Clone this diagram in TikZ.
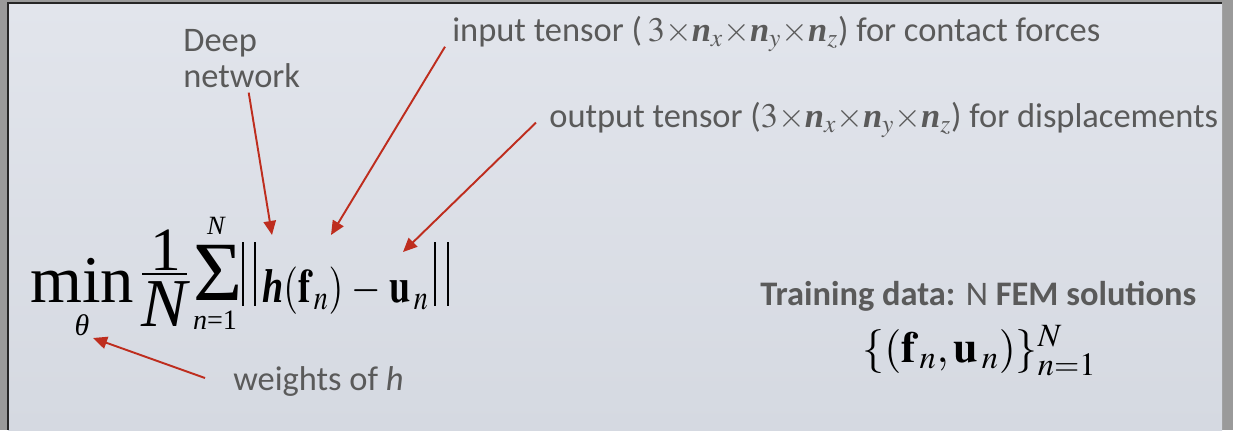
\documentclass[tikz,border=0pt]{standalone}
\usepackage{amsmath}
\usepackage{mathptmx}
\usepackage{graphicx}
\usepackage[no-math]{fontspec}
\setmainfont{Carlito}
\newfontfamily\timesfont{Liberation Serif}
\usetikzlibrary{arrows.meta,positioning}

\definecolor{framegray}{RGB}{154,154,154}
\definecolor{paneltop}{RGB}{226,229,236}
\definecolor{panelbot}{RGB}{213,217,225}
\definecolor{txtgray}{RGB}{90,90,90}
\definecolor{arrred}{RGB}{190,45,30}

% bold italic Times letters
\newcommand{\bi}[1]{\mbox{\timesfont\bfseries\itshape #1}}
\newcommand{\tensorsize}{$3{\times}\bi{n}_x{\times}\bi{n}_y{\times}\bi{n}_z$}

\begin{document}
\begin{tikzpicture}[
    x=0.02cm, y=-0.02cm,
    lbl/.style={text=txtgray, font=\fontsize{19.6}{20}\selectfont, inner sep=0pt, align=left},
    tms/.style={inner sep=0pt, font=\fontsize{#1}{#1}\selectfont\timesfont},
    datamath/.style={inner sep=0pt, font=\fontsize{25}{30}\selectfont},
    arrow/.style={-{Triangle[length=8pt,width=7pt]}, draw=arrred, line width=1.1pt}
]
\useasboundingbox (0,0) rectangle (1233,430);

% slide panel
\fill[framegray] (0,0) rectangle (1233,430);
\shade[top color=paneltop, bottom color=panelbot] (8,3) rectangle (1222,430);
\draw[black!85, line width=1.2pt] (8,430) -- (8,3) -- (1222,3);

% loss function: min over theta
\node[tms=38, anchor=base west] (min) at (30,302) {min};
\node[tms=17, anchor=north] (theta) at (82,314) {\itshape θ};

% 1/N
\node[tms=35, anchor=south] (one) at (166,271) {1};
\node[tms=39, anchor=north] (den) at (164,281) {\itshape N};
\draw[line width=1.1pt] (142,274) -- (187,274);

% sum
\node[tms=48, anchor=base west] (sum) at (193,300) {Σ};
\node[tms=15, anchor=south] (sumtop) at (216,235) {\itshape N};
\node[tms=16, anchor=north] (sumbot) at (215,311) {\itshape n\upshape=1};

% norm
\foreach \bx in {243,255,435,448}
  \draw[line width=1.1pt] (\bx,242) -- (\bx,306);
\node[inner sep=0pt, anchor=base west, font=\fontsize{27}{27}\selectfont] (expr) at (262,302)
  {\scalebox{0.8}[1]{$\bi{h}(\mathbf{f}_{\,n})\mkern4mu{-}\mkern4mu\mathbf{u}_{\,n}$}};

% labels
\node[lbl, anchor=base west] (deep) at (183,87) {Deep\\network};
\node[lbl, anchor=base west] (input) at (452,41) {input tensor (\,\tensorsize) for contact forces};
\node[lbl, anchor=base west] (output) at (549,127) {output tensor (\tensorsize) for displacements};
\node[lbl, anchor=base west] (weights) at (233,390) {weights of \textit{h}};

% training set
\node[lbl, anchor=base west] (train) at (760,305) {\textbf{Training data:} N \textbf{FEM solutions}};
\node[datamath, anchor=base west] (data) at (862,362)
  {$\{(\mathbf{f}_{\,n},\mathbf{u}_{\,n})\}_{n=1}^{N}$};

% pointers
\coordinate (hpos) at (272,235);
\coordinate (fpos) at (331,235);
\coordinate (upos) at (403,252);
\coordinate (thpos) at (93,338);

\draw[arrow] ([xshift=0.14cm,yshift=-0.1cm]deep.south) -- (hpos);
\draw[arrow] ([xshift=-0.14cm,yshift=0.1cm]input.south west) -- (fpos);
\draw[arrow] ([xshift=-0.26cm,yshift=-0.06cm]output.west) -- (upos);
\draw[arrow] ([xshift=-0.56cm,yshift=0.06cm]weights.west) -- (thpos);

\end{tikzpicture}
\end{document}
